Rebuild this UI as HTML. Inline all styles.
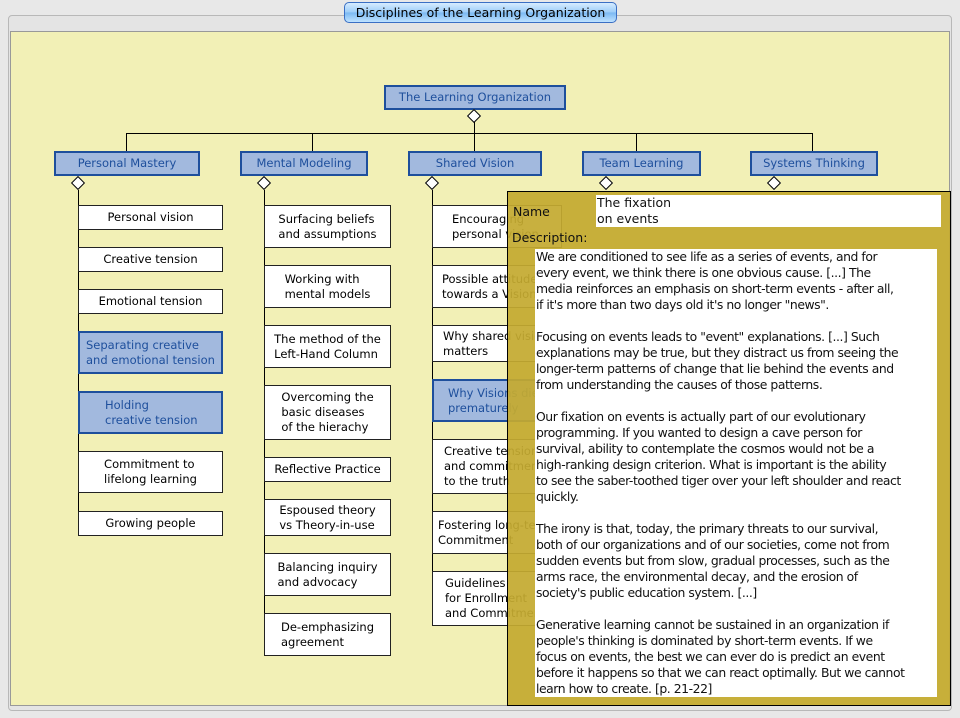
<!DOCTYPE html>
<html><head><meta charset="utf-8"><style>
body{margin:0;width:960px;height:718px;background:#e8e8e8;position:relative;overflow:hidden;font-family:"DejaVu Sans","Liberation Sans",sans-serif;}
.a{position:absolute;box-sizing:border-box;}
.panel{left:8px;top:15px;width:944px;height:696px;border:1px solid #b8b8b8;border-radius:4px;background:#e4e4e4;}
.yl{left:10px;top:31px;width:940px;height:675px;background:#f2f0b6;border:1px solid #999;}
.tab{left:344px;top:2px;width:273px;height:21px;border:1px solid #3a6fc4;border-radius:5px;background:linear-gradient(#d6ecff,#9cccf8 50%,#7ab8f2 51%,#bfe2ff);font-size:12.5px;text-align:center;line-height:19px;color:#000;}
.b{background:#a2b9de;border:2px solid #1e4f9c;color:#1e4f9c;font-size:11.5px;text-align:center;display:flex;align-items:center;justify-content:center;line-height:15px;}
.w{background:#fff;border:1px solid #222;color:#000;font-size:11.5px;display:flex;align-items:center;justify-content:center;text-align:left;line-height:15px;}
.w span,.b span{display:block;text-align:left;}
.hl{height:1px;background:#000;}
.vl{width:1px;background:#000;}
.d{width:10px;height:10px;background:#fff;border:1px solid #000;transform:rotate(45deg);}
.pop{left:507px;top:191px;width:444px;height:515px;background:rgba(196,170,48,0.93);border:1px solid #000;}
.txt{left:535px;top:249px;width:402px;height:448px;background:#fff;font-size:12.4px;line-height:16px;white-space:pre;color:#111;padding:0 0 0 1px;font-family:"DejaVu Sans",sans-serif;letter-spacing:-0.45px;}
</style></head><body>
<div class="a panel"></div>
<div class="a yl"></div>
<div class="a tab">Disciplines of the Learning Organization</div>

<div class="a b" style="left:384px;top:85px;width:182px;height:25px;">The Learning Organization</div>
<div class="a d" style="left:469px;top:111px;"></div>
<div class="a vl" style="left:474px;top:122px;height:30px;"></div>
<div class="a hl" style="left:126px;top:133px;width:687px;"></div>
<div class="a vl" style="left:126px;top:133px;height:18px;"></div>
<div class="a vl" style="left:312px;top:133px;height:18px;"></div>
<div class="a vl" style="left:636px;top:133px;height:18px;"></div>
<div class="a vl" style="left:812px;top:133px;height:18px;"></div>

<div class="a b" style="left:54px;top:151px;width:146px;height:25px;">Personal Mastery</div>
<div class="a b" style="left:240px;top:151px;width:128px;height:25px;">Mental Modeling</div>
<div class="a b" style="left:408px;top:151px;width:134px;height:25px;">Shared Vision</div>
<div class="a b" style="left:582px;top:151px;width:119px;height:25px;">Team Learning</div>
<div class="a b" style="left:750px;top:151px;width:128px;height:25px;">Systems Thinking</div>

<div class="a d" style="left:73px;top:178px;"></div>
<div class="a d" style="left:259px;top:178px;"></div>
<div class="a d" style="left:427px;top:178px;"></div>
<div class="a d" style="left:601px;top:178px;"></div>
<div class="a d" style="left:769px;top:178px;"></div>
<div class="a vl" style="left:78px;top:190px;height:333px;"></div>
<div class="a vl" style="left:264px;top:190px;height:445px;"></div>
<div class="a vl" style="left:432px;top:190px;height:415px;"></div>

<!-- Personal Mastery -->
<div class="a w" style="left:78px;top:205px;width:145px;height:25px;justify-content:center;">Personal vision</div>
<div class="a w" style="left:78px;top:247px;width:145px;height:25px;">Creative tension</div>
<div class="a w" style="left:78px;top:289px;width:145px;height:25px;">Emotional tension</div>
<div class="a b" style="left:78px;top:331px;width:145px;height:43px;justify-content:flex-start;padding-left:6px;"><span>Separating creative<br>and emotional tension</span></div>
<div class="a b" style="left:78px;top:391px;width:145px;height:43px;justify-content:flex-start;padding-left:25px;"><span>Holding<br>creative tension</span></div>
<div class="a w" style="left:78px;top:451px;width:145px;height:42px;"><span>Commitment to<br>lifelong learning</span></div>
<div class="a w" style="left:78px;top:511px;width:145px;height:25px;">Growing people</div>

<!-- Mental Modeling -->
<div class="a w" style="left:264px;top:205px;width:127px;height:43px;"><span>Surfacing beliefs<br>and assumptions</span></div>
<div class="a w" style="left:264px;top:265px;width:127px;height:43px;"><span>Working with<br>mental models</span></div>
<div class="a w" style="left:264px;top:325px;width:127px;height:43px;"><span>The method of the<br>Left-Hand Column</span></div>
<div class="a w" style="left:264px;top:385px;width:127px;height:55px;"><span>Overcoming the<br>basic diseases<br>of the hierachy</span></div>
<div class="a w" style="left:264px;top:457px;width:127px;height:25px;">Reflective Practice</div>
<div class="a w" style="left:264px;top:499px;width:127px;height:37px;"><span>Espoused theory<br>vs Theory-in-use</span></div>
<div class="a w" style="left:264px;top:553px;width:127px;height:43px;"><span>Balancing inquiry<br>and advocacy</span></div>
<div class="a w" style="left:264px;top:613px;width:127px;height:43px;"><span>De-emphasizing<br>agreement</span></div>

<!-- Shared Vision -->
<div class="a w" style="left:432px;top:205px;width:130px;height:43px;justify-content:flex-start;padding-left:19px;"><span>Encouraging<br>personal vision</span></div>
<div class="a w" style="left:432px;top:265px;width:130px;height:43px;justify-content:flex-start;padding-left:9px;"><span>Possible attitudes<br>towards a Vision</span></div>
<div class="a w" style="left:432px;top:325px;width:130px;height:37px;justify-content:flex-start;padding-left:10px;"><span>Why shared vision<br>matters</span></div>
<div class="a b" style="left:432px;top:379px;width:130px;height:43px;justify-content:flex-start;padding-left:14px;"><span>Why Visions die<br>prematurely</span></div>
<div class="a w" style="left:432px;top:439px;width:130px;height:55px;justify-content:flex-start;padding-left:11px;"><span>Creative tension<br>and commitment<br>to the truth</span></div>
<div class="a w" style="left:432px;top:511px;width:130px;height:43px;justify-content:flex-start;padding-left:5px;"><span>Fostering long-term<br>Commitment</span></div>
<div class="a w" style="left:432px;top:571px;width:130px;height:55px;justify-content:flex-start;padding-left:12px;"><span>Guidelines<br>for Enrollment<br>and Commitment</span></div>

<!-- popup -->
<div class="a pop"></div>
<div class="a" style="left:513px;top:204px;font-size:12.5px;color:#111;">Name</div>
<div class="a" style="left:596px;top:195px;width:345px;height:32px;background:#fff;font-size:12.5px;line-height:16px;color:#111;padding-left:1px;">The fixation<br>on events</div>
<div class="a" style="left:512px;top:230px;font-size:12.5px;color:#111;">Description:</div>
<div class="a txt">We are conditioned to see life as a series of events, and for
every event, we think there is one obvious cause. [...] The
media reinforces an emphasis on short-term events - after all,
if it's more than two days old it's no longer "news".

Focusing on events leads to "event" explanations. [...] Such
explanations may be true, but they distract us from seeing the
longer-term patterns of change that lie behind the events and
from understanding the causes of those patterns.

Our fixation on events is actually part of our evolutionary
programming. If you wanted to design a cave person for
survival, ability to contemplate the cosmos would not be a
high-ranking design criterion. What is important is the ability
to see the saber-toothed tiger over your left shoulder and react
quickly.

The irony is that, today, the primary threats to our survival,
both of our organizations and of our societies, come not from
sudden events but from slow, gradual processes, such as the
arms race, the environmental decay, and the erosion of
society's public education system. [...]

Generative learning cannot be sustained in an organization if
people's thinking is dominated by short-term events. If we
focus on events, the best we can ever do is predict an event
before it happens so that we can react optimally. But we cannot
learn how to create. [p. 21-22]</div>
</body></html>
